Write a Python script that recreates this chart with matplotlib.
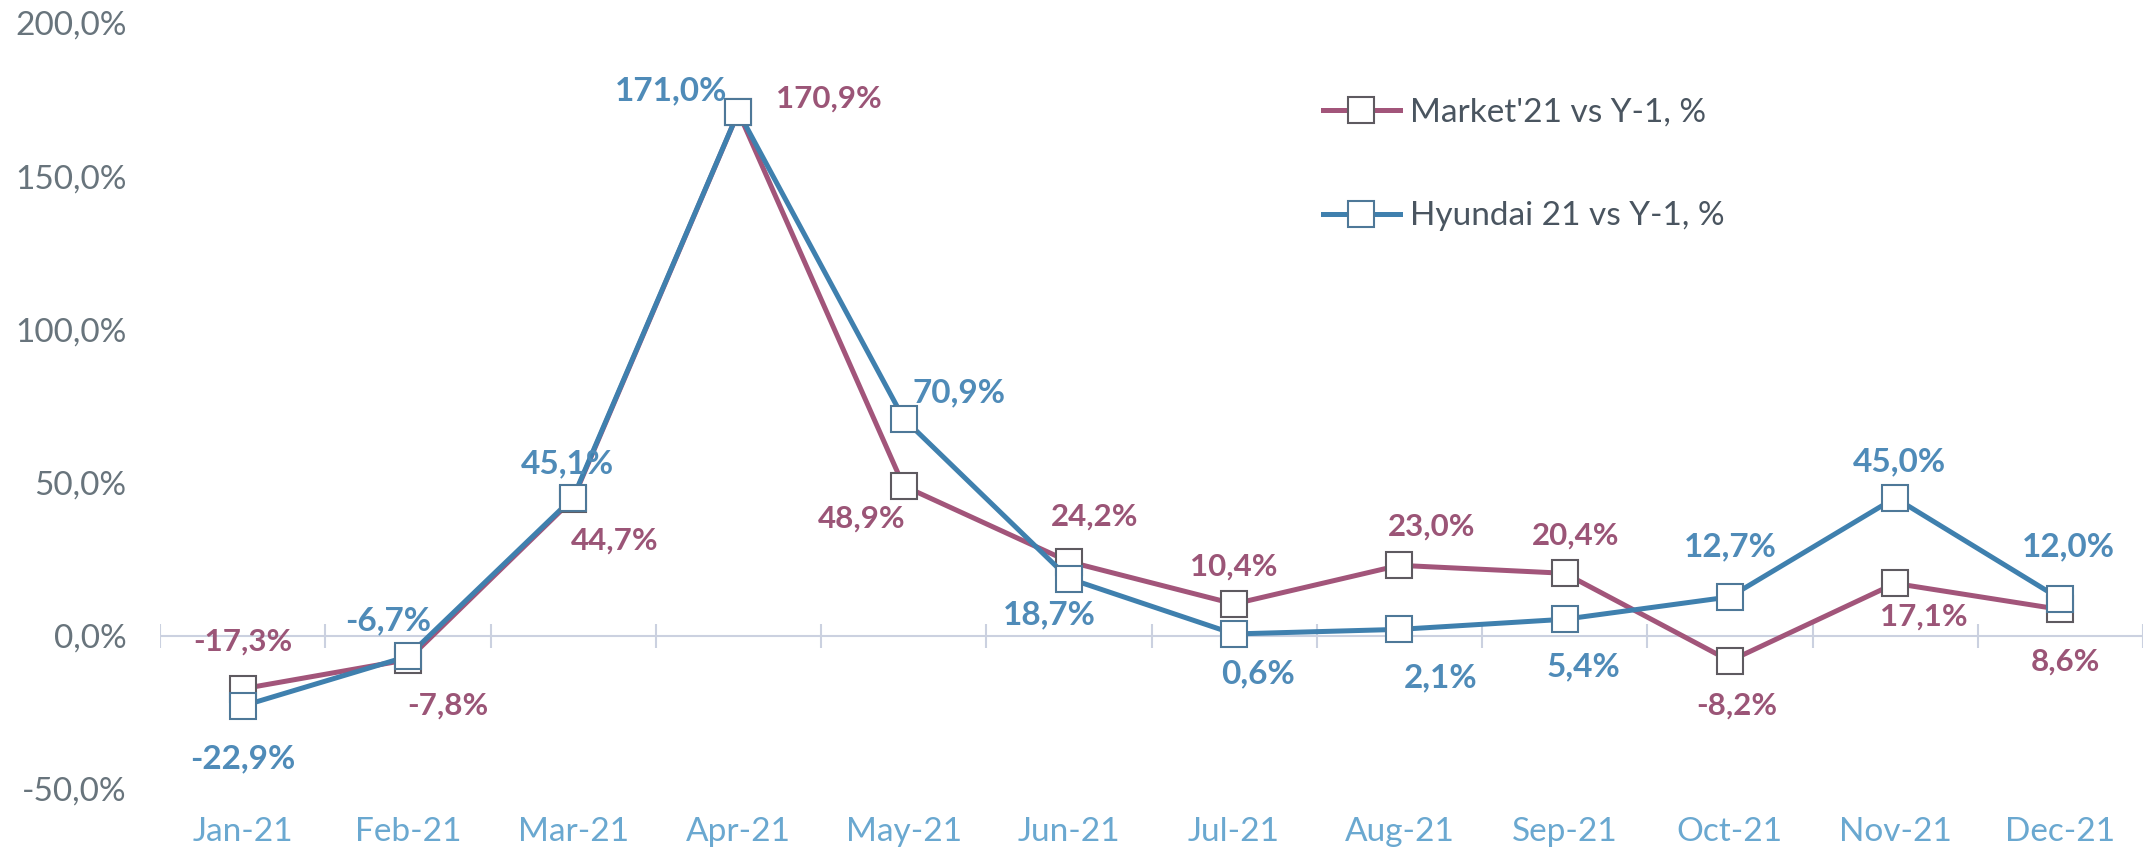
import matplotlib
matplotlib.use('Agg')
import matplotlib.pyplot as plt
from matplotlib.ticker import FuncFormatter

months = ['Jan-21', 'Feb-21', 'Mar-21', 'Apr-21', 'May-21', 'Jun-21',
          'Jul-21', 'Aug-21', 'Sep-21', 'Oct-21', 'Nov-21', 'Dec-21']
market = [-17.3, -7.8, 44.7, 170.9, 48.9, 24.2, 10.4, 23.0, 20.4, -8.2, 17.1, 8.6]
hyundai = [-22.9, -6.7, 45.1, 171.0, 70.9, 18.7, 0.6, 2.1, 5.4, 12.7, 45.0, 12.0]
market_name = "Market'21 vs Y-1, %"
hyundai_name = "Hyundai 21 vs Y-1, %"

# label offsets in pixels (dx, dy), tuned by eye
market_off = [(0, 47), (40, -46), (42, -42), (91, 14), (-42, -33), (26, 45),
              (0, 37), (32, 39), (11, 38), (7, -45), (29, -33), (5, -52)]
hyundai_off = [(0, -53), (-20, 36), (-6, 34), (-67, 21), (55, 26), (-20, -36),
               (24, -40), (41, -48), (19, -48), (0, 50), (4, 36), (8, 52)]

MARKET_C = '#A2557A'
MARKET_TXT = '#9B5577'
HYUNDAI_C = '#3F80AE'
HYUNDAI_TXT = '#4F8BB8'


def pct(v):
    return f"{v:.1f}".replace('.', ',') + '%'


fig = plt.figure(figsize=(21.5, 8.6), dpi=100)
ax = fig.add_axes([160 / 2150, 71 / 860, 1983 / 2150, 766 / 860])

x = list(range(len(months)))

# zero line with category separators
ax.axhline(0, color='#CBD1E0', lw=1.5, zorder=1)
ax.vlines([i - 0.5 for i in range(len(months) + 1)], -4, 4, color='#CBD1E0', lw=1.5, zorder=1)

ax.plot(x, market, color=MARKET_C, lw=3.6, marker='s', markersize=19,
        markerfacecolor='white', markeredgecolor='#5E5A60', markeredgewidth=1.5,
        label=market_name, zorder=3)
ax.plot(x, hyundai, color=HYUNDAI_C, lw=3.6, marker='s', markersize=19,
        markerfacecolor='white', markeredgecolor='#4E7898', markeredgewidth=1.5,
        label=hyundai_name, zorder=4)

for i, v in enumerate(market):
    ax.annotate(pct(v), (i, v), xytext=market_off[i], textcoords='offset pixels',
                ha='center', va='center', fontsize=22.5, fontweight='bold',
                family='Lato', color=MARKET_TXT, zorder=5)
for i, v in enumerate(hyundai):
    ax.annotate(pct(v), (i, v), xytext=hyundai_off[i], textcoords='offset pixels',
                ha='center', va='center', fontsize=24, fontweight='bold',
                family='Lato', color=HYUNDAI_TXT, zorder=5)

ax.set_xlim(-0.5, len(months) - 0.5)
ax.set_ylim(-50, 200)
ax.set_yticks([-50, 0, 50, 100, 150, 200])
ax.yaxis.set_major_formatter(FuncFormatter(lambda v, p: pct(v)))
ax.set_xticks(x)
ax.set_xticklabels(months, family='Lato', fontsize=24, color='#6AA8D0')
for lab in ax.get_yticklabels():
    lab.set_fontsize(24)
    lab.set_family('Lato')
    lab.set_color('#68747C')
ax.tick_params(axis='x', length=0, pad=20)
ax.tick_params(axis='y', length=0, pad=24)
for s in ax.spines.values():
    s.set_visible(False)

leg = fig.legend(loc='upper left', bbox_to_anchor=(1323 / 2150, 1 - 98 / 860),
                 frameon=False, prop={'family': 'Lato', 'size': 24},
                 labelspacing=2.2, handlelength=2.3, handletextpad=0.3,
                 borderpad=0, borderaxespad=0)
for t in leg.get_texts():
    t.set_color('#4A5560')

fig.savefig('out.png', dpi=100)
